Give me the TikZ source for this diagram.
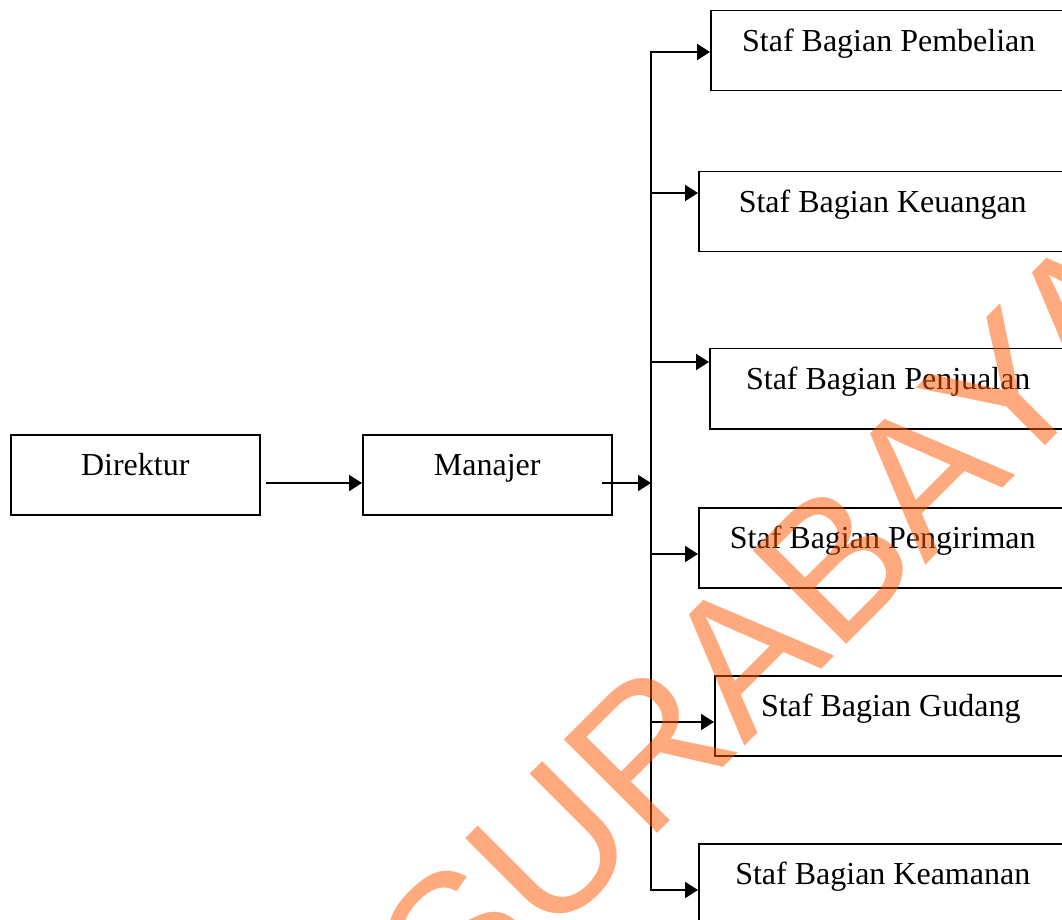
\documentclass[tikz,border=0pt]{standalone}
\usepackage{fontspec}
\setmainfont{Liberation Serif}
\newfontfamily\wmfont{Liberation Sans}
\usetikzlibrary{arrows.meta}
\definecolor{wmcol}{RGB}{255,85,0}
\tikzset{
  box/.style={draw, line width=0.75pt, anchor=north west, inner xsep=0pt, inner ysep=0pt,
    text height=20.5pt, text depth=19.5pt, font=\fontsize{16}{18}\selectfont},
  conn/.style={line width=1pt},
  arr/.style={conn, -{Triangle[length=6.5pt,width=8pt]}},
  wmark/.style={text=wmcol, text opacity=0.5, rotate=45, anchor=base west, inner sep=0pt,
    font=\wmfont\fontsize{96}{96}\selectfont}
}
\begin{document}
\begin{tikzpicture}[x=0.5pt, y=-0.5pt]
\useasboundingbox (0,0) rectangle (1062,920);
\clip (0,0) rectangle (1062,920);
\fill[white] (0,0) rectangle (1062,920);
% boxes
\node[box, minimum width=124.5pt] (dir) at (10,434) {Direktur};
\node[box, minimum width=124.5pt] (man) at (362,434) {Manajer};
\node[box, minimum width=178pt] (s1) at (710,10) {Staf Bagian Pembelian};
\node[box, minimum width=184pt] (s2) at (698,171) {Staf Bagian Keuangan};
\node[box, minimum width=178.5pt] (s3) at (709,348) {Staf Bagian Penjualan};
\node[box, minimum width=184pt] (s4) at (698,507) {Staf Bagian Pengiriman};
\node[box, minimum width=176pt] (s5) at (714,675) {Staf Bagian Gudang};
\node[box, minimum width=184pt] (s6) at (698,843) {Staf Bagian Keamanan};
% bus points
\coordinate (b1) at (651,52);
\coordinate (b2) at (651,193);
\coordinate (b3) at (651,362);
\coordinate (b4) at (651,554);
\coordinate (b5) at (651,722);
\coordinate (b6) at (651,890);
\coordinate (d0) at (266,483);
\coordinate (m0) at (602,483);
% connectors
\draw[arr] (d0) -- (d0 -| man.west);
\draw[arr] (m0) -- (m0 -| b1);
\draw[conn, line cap=rect] (b1) -- (b6);
\draw[arr] (b1) -- (b1 -| s1.west);
\draw[arr] (b2) -- (b2 -| s2.west);
\draw[arr] (b3) -- (b3 -| s3.west);
\draw[arr] (b4) -- (b4 -| s4.west);
\draw[arr] (b5) -- (b5 -| s5.west);
\draw[arr] (b6) -- (b6 -| s6.west);
% watermark
\node[wmark] (wm) at (458,1033) {SURABAYA};
\end{tikzpicture}
\end{document}
